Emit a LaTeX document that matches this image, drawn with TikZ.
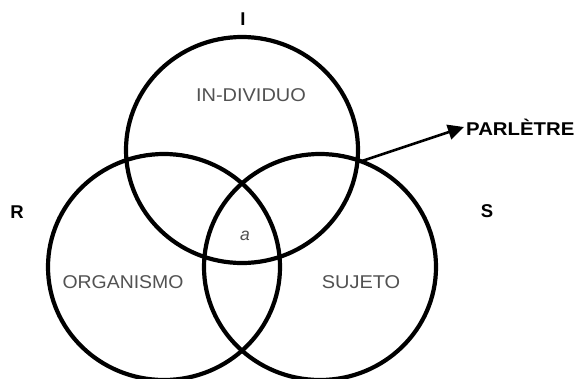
\documentclass[tikz,border=0pt]{standalone}
\usepackage{fontspec}
\setmainfont{Liberation Sans}
\usetikzlibrary{arrows.meta}
\begin{document}
\begin{tikzpicture}[x=1pt,y=-1pt,
  ring/.style={line width=4.2pt},
  inner/.style={text=black!68, font=\fontsize{18.5}{20}\selectfont},
  outer/.style={font=\bfseries\fontsize{18.5}{20}\selectfont},
  ptr/.style={line width=2.6pt,-{Triangle[length=16pt,width=15pt]}}]
\useasboundingbox (0,0) rectangle (580,378);
\clip (0,0) rectangle (580,378);
\fill[white] (0,0) rectangle (580,378);
\draw[ring] (242,150) ellipse [x radius=116pt, y radius=113pt];
\draw[ring] (164,267) ellipse [x radius=116pt, y radius=113pt];
\draw[ring] (320,267) ellipse [x radius=116pt, y radius=113pt];
\node[outer] (I) at (243,19) {I};
\node[outer] (R) at (17,212) {R};
\node[outer] (S) at (487,211) {S};
\node[outer, anchor=west, inner sep=2pt] (parl) at (464,127) {\scalebox{1.1}[1]{PARLÈTRE}};
\node[inner] (ind) at (251,95) {\scalebox{1.08}[1]{IN-DIVIDUO}};
\node[inner] (org) at (123,282) {\scalebox{1.05}[1]{ORGANISMO}};
\node[inner] (suj) at (361,282) {\scalebox{1.08}[1]{SUJETO}};
\node[inner, font=\itshape\fontsize{17.5}{19}\selectfont] (a) at (245,236) {a};
\coordinate (p) at (359,162);
\draw[ptr] (p) -- (parl.west);
\end{tikzpicture}
\end{document}
